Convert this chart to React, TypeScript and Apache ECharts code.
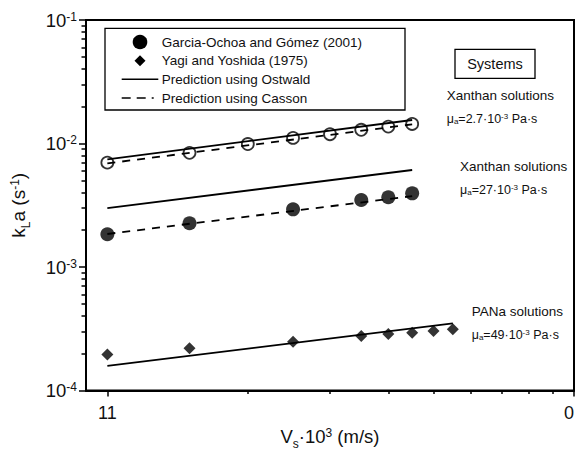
import React, { useEffect, useRef } from "react";
import * as echarts from "echarts";

// ---- Data (superficial velocity Vs·10^3 in m/s, kLa in 1/s) ----
const velocityXanthanLow = [10, 15, 20, 25, 30, 35, 40, 45];
const kLaXanthanLow = [0.007, 0.0084, 0.0099, 0.0111, 0.0119, 0.0129, 0.0137, 0.0144];

const velocityXanthanHigh = [10, 15, 25, 35, 40, 45];
const kLaXanthanHigh = [0.00184, 0.00226, 0.00293, 0.00349, 0.00367, 0.00395];

const velocityPANa = [10, 15, 25, 35, 40, 45, 50, 55];
const kLaPANa = [0.000196, 0.00022, 0.000248, 0.000276, 0.000287, 0.000294, 0.000303, 0.000313];

// prediction lines (endpoints of straight lines in log-log space)
const predVelocityXanthan = [10, 45];
const ostwaldXanthanLow = [0.00745, 0.0155];
const cassonXanthanLow = [0.0069, 0.0143];
const ostwaldXanthanHigh = [0.003, 0.0061];
const cassonXanthanHigh = [0.00185, 0.00375];
const predVelocityPANa = [10, 55];
const ostwaldPANa = [0.000158, 0.00035];

// ---- Axis ticks ----
const xMajorTicks = [10, 100];
const xMinorTicks = [20, 30, 40, 50, 60, 70, 80, 90];
const xTickLabels: Record<string, string> = { "10": "11", "100": "0" };
const xAxisMin = 9;
const xAxisMax = 100;
const yDecades = [-4, -3, -2, -1];
const yMinorMultipliers = [2, 3, 4, 5, 6, 7, 8, 9];

const FONT = '"Liberation Sans", Arial, Helvetica, sans-serif';
const L = Math.log10;

const pairs = (xs: number[], ys: number[]) => xs.map((x, i) => [L(x), L(ys[i])]);

export default function App() {
  const ref = useRef<HTMLDivElement>(null);

  useEffect(() => {
    if (!ref.current) return;
    const chart = echarts.init(ref.current, undefined, { renderer: "svg" });

    const yMinor: number[] = [];
    for (let d = yDecades[0]; d < yDecades[yDecades.length - 1]; d++) {
      yMinorMultipliers.forEach((k) => yMinor.push(d + L(k)));
    }

    const lineSeries = (name: string, xs: number[], ys: number[], dashed: boolean) => ({
      name,
      type: "line",
      data: pairs(xs, ys),
      symbol: "none",
      lineStyle: { color: "#000", width: 1.8, type: dashed ? [8, 7] : "solid" },
      z: 3,
    });

    const subRich = {
      t: { fontSize: 12.5, fontFamily: FONT, color: "#111" },
      sub: { fontSize: 8, fontFamily: FONT, color: "#111", verticalAlign: "bottom" },
      sup: { fontSize: 8, fontFamily: FONT, color: "#111", verticalAlign: "top" },
    };

    const textEl = (x: number, y: number, text: string, size = 13.5, align = "left") => ({
      type: "text",
      x,
      y,
      style: {
        text,
        fontSize: size,
        fontFamily: FONT,
        fill: "#111",
        align,
        verticalAlign: "middle",
      },
      z: 10,
    });
    const richEl = (x: number, y: number, text: string) => ({
      type: "text",
      x,
      y,
      style: { text, rich: subRich, align: "left", verticalAlign: "middle", fill: "#111" },
      z: 10,
    });

    const legendX = 121.7;
    const legendRows = [42, 60.7, 79.3, 98];

    chart.setOption({
      animation: false,
      backgroundColor: "#fff",
      grid: {
        left: 86,
        right: 2,
        top: 20,
        bottom: 59.5,
        containLabel: false,
        outerBoundsMode: "none",
        show: true,
        borderColor: "#000",
        borderWidth: 2,
      },
      xAxis: [
        {
          type: "value",
          min: L(xAxisMin),
          max: L(xAxisMax),
          axisLine: { show: true, lineStyle: { color: "#000", width: 2 } },
          axisTick: {
            show: true,
            customValues: xMajorTicks.map(L),
            length: 6,
            lineStyle: { color: "#000", width: 1.5 },
          },
          axisLabel: {
            customValues: xMajorTicks.map(L),
            formatter: (v: number) => xTickLabels[String(Math.round(Math.pow(10, v)))] ?? "",
            fontSize: 18,
            fontFamily: FONT,
            color: "#111",
            margin: 13,
            alignMaxLabel: "right",
          },
          splitLine: { show: false },
          name: "{t|V}{sub|s}{t|·10}{sup|3}{t| (m/s)}",
          nameLocation: "middle",
          nameGap: 36,
          nameTextStyle: {
            rich: {
              t: { fontSize: 18.5, fontFamily: FONT, color: "#111" },
              sub: { fontSize: 12, fontFamily: FONT, color: "#111", verticalAlign: "bottom", padding: [0, 0, -4, 0] },
              sup: { fontSize: 12, fontFamily: FONT, color: "#111", verticalAlign: "top" },
            },
          },
        },
        {
          type: "value",
          min: L(xAxisMin),
          max: L(xAxisMax),
          position: "bottom",
          axisLine: { show: false },
          axisTick: {
            show: true,
            customValues: xMinorTicks.map(L),
            length: 3.5,
            lineStyle: { color: "#000", width: 1.5 },
          },
          axisLabel: { show: false },
          splitLine: { show: false },
        },
      ],
      yAxis: [
        {
          type: "value",
          min: yDecades[0],
          max: yDecades[yDecades.length - 1],
          axisLine: { show: true, lineStyle: { color: "#000", width: 2 } },
          axisTick: {
            show: true,
            customValues: yDecades,
            length: 7,
            lineStyle: { color: "#000", width: 1.5 },
          },
          axisLabel: {
            customValues: yDecades,
            formatter: (v: number) => `10{sup|${Math.round(v)}}`,
            fontSize: 18.5,
            fontFamily: FONT,
            color: "#111",
            margin: 9,
            rich: { sup: { fontSize: 12, fontFamily: FONT, color: "#111", verticalAlign: "top" } },
          },
          splitLine: { show: false },
          name: "{t|k}{sub|L}{t|a (s}{sup|-1}{t|)}",
          nameLocation: "middle",
          nameGap: 58,
          nameTextStyle: {
            rich: {
              t: { fontSize: 19, fontFamily: FONT, color: "#111" },
              sub: { fontSize: 12, fontFamily: FONT, color: "#111", verticalAlign: "bottom", padding: [0, 0, -4, 0] },
              sup: { fontSize: 12, fontFamily: FONT, color: "#111", verticalAlign: "top" },
            },
          },
        },
        {
          type: "value",
          min: yDecades[0],
          max: yDecades[yDecades.length - 1],
          position: "left",
          axisLine: { show: false },
          axisTick: {
            show: true,
            customValues: yMinor,
            length: 4.5,
            lineStyle: { color: "#000", width: 1.5 },
          },
          axisLabel: { show: false },
          splitLine: { show: false },
        },
      ],
      series: [
        {
          name: "Garcia-Ochoa and Gómez (2001) · μa=2.7·10-3",
          type: "scatter",
          data: pairs(velocityXanthanLow, kLaXanthanLow),
          symbol: "circle",
          symbolSize: 12,
          itemStyle: { color: "rgba(255,255,255,0)", borderColor: "#000", borderWidth: 1.8 },
          z: 4,
        },
        {
          name: "Garcia-Ochoa and Gómez (2001)",
          type: "scatter",
          data: pairs(velocityXanthanHigh, kLaXanthanHigh),
          symbol: "circle",
          symbolSize: 14,
          itemStyle: { color: "#000" },
          z: 4,
        },
        {
          name: "Yagi and Yoshida (1975)",
          type: "scatter",
          data: pairs(velocityPANa, kLaPANa),
          symbol: "diamond",
          symbolSize: 12,
          itemStyle: { color: "#000" },
          z: 4,
        },
        lineSeries("Prediction using Ostwald · 2.7", predVelocityXanthan, ostwaldXanthanLow, false),
        lineSeries("Prediction using Casson · 2.7", predVelocityXanthan, cassonXanthanLow, true),
        lineSeries("Prediction using Ostwald · 27", predVelocityXanthan, ostwaldXanthanHigh, false),
        lineSeries("Prediction using Casson · 27", predVelocityXanthan, cassonXanthanHigh, true),
        lineSeries("Prediction using Ostwald · 49", predVelocityPANa, ostwaldPANa, false),
      ],
      graphic: [
        // legend box
        {
          type: "rect",
          shape: { x: 105, y: 28.3, width: 300, height: 81.7 },
          style: { fill: "#fff", stroke: "#000", lineWidth: 1.3 },
          z: 9,
        },
        {
          type: "circle",
          shape: { cx: 140, cy: legendRows[0], r: 7.3 },
          style: { fill: "#000" },
          z: 10,
        },
        {
          type: "polygon",
          shape: {
            points: [
              [140, legendRows[1] - 5.5],
              [145.5, legendRows[1]],
              [140, legendRows[1] + 5.5],
              [134.5, legendRows[1]],
            ],
          },
          style: { fill: "#000" },
          z: 10,
        },
        {
          type: "line",
          shape: { x1: legendX, y1: legendRows[2], x2: 158.3, y2: legendRows[2] },
          style: { stroke: "#000", lineWidth: 1.6 },
          z: 10,
        },
        {
          type: "line",
          shape: { x1: legendX, y1: legendRows[3], x2: 158.3, y2: legendRows[3] },
          style: { stroke: "#000", lineWidth: 1.6, lineDash: [9, 6, 9, 6, 2, 10] },
          z: 10,
        },
        textEl(161.7, legendRows[0], "Garcia-Ochoa and Gómez (2001)"),
        textEl(161.7, legendRows[1], "Yagi and Yoshida (1975)"),
        textEl(161.7, legendRows[2], "Prediction using Ostwald"),
        textEl(161.7, legendRows[3], "Prediction using Casson"),
        // Systems box
        {
          type: "rect",
          shape: { x: 455, y: 49.3, width: 80, height: 29 },
          style: { fill: "#fff", stroke: "#000", lineWidth: 1.3 },
          z: 9,
        },
        textEl(495, 64, "Systems", 14.5, "center"),
        textEl(446.7, 95, "Xanthan solutions"),
        richEl(446.7, 119.3, "{t|μ}{sub|a}{t|=2.7·10}{sup|-3}{t| Pa·s}"),
        textEl(460, 166.7, "Xanthan solutions"),
        richEl(460, 190, "{t|μ}{sub|a}{t|=27·10}{sup|-3}{t| Pa·s}"),
        textEl(471.7, 311.7, "PANa solutions"),
        richEl(471.7, 335, "{t|μ}{sub|a}{t|=49·10}{sup|-3}{t| Pa·s}"),
      ],
    });

    return () => chart.dispose();
  }, []);

  return (
    <div
      ref={ref}
      style={{ position: "fixed", left: 0, top: 0, width: 576, height: 450, background: "#fff" }}
    />
  );
}
